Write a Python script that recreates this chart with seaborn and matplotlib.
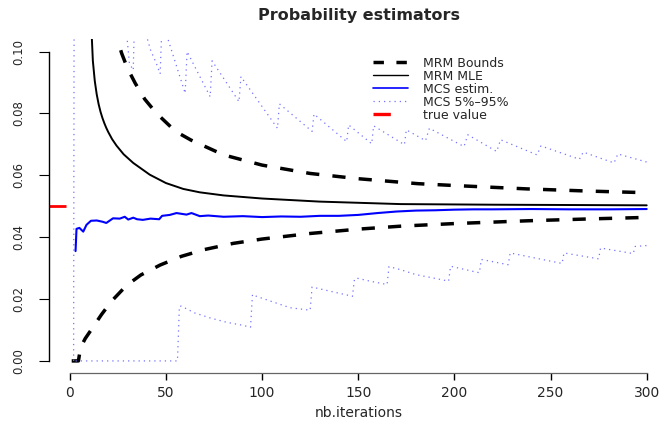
import matplotlib
matplotlib.use("Agg")
import matplotlib.pyplot as plt
from matplotlib.lines import Line2D
import numpy as np
import pandas as pd
import seaborn as sns

# ---- data ---------------------------------------------------------------
true_value = 0.05

# MRM upper / lower bounds
bound_up_x = [5, 10, 15, 20, 25, 27, 30, 34, 39, 45, 55, 63, 80, 100, 125,
              150, 181, 200, 238, 270, 293, 300]
bound_up_y = [0.316, 0.183, 0.139, 0.1165, 0.1035, 0.0994, 0.0946, 0.0898,
              0.0846, 0.0801, 0.0742, 0.0714, 0.0666, 0.0633, 0.0606, 0.0589,
              0.0573, 0.0567, 0.0556, 0.0549, 0.0545, 0.0544]
bound_lo_x = [1, 4.5, 5.6, 8, 11.3, 16.5, 21.7, 29.5, 37, 47, 58, 70, 85, 100,
              125, 150, 173, 200, 238, 270, 300]
bound_lo_y = [0.0, 0.0, 0.0043, 0.0072, 0.0102, 0.0150, 0.0193, 0.0244,
              0.0278, 0.0310, 0.0338, 0.0360, 0.0380, 0.0394, 0.0412, 0.0426,
              0.0436, 0.0444, 0.0453, 0.0459, 0.0464]

# MRM maximum likelihood estimate
mle_x = [8, 10, 11.5, 12, 13, 14, 15, 16, 17, 18, 19, 20, 22, 24.3, 28, 33,
         41.6, 50, 59, 67.6, 80, 100, 130, 172, 220, 260, 300]
mle_y = [0.20, 0.13, 0.104, 0.097, 0.0905, 0.0862, 0.0830, 0.0805, 0.0785,
         0.0768, 0.0753, 0.0740, 0.0717, 0.0696, 0.0668, 0.0640, 0.0602,
         0.0575, 0.0556, 0.0545, 0.0535, 0.0525, 0.0515, 0.0507, 0.0505,
         0.0504, 0.0503]

# Monte Carlo estimate
mcs_x = [3, 3.5, 5, 7, 8.7, 11, 14, 17, 19, 22.5, 26, 28.6, 30.4, 33, 35, 38,
         42, 46.5, 48, 52, 55.5, 60.7, 63.3, 67.6, 72, 80, 90, 100, 110, 120,
         130, 140, 150, 160, 170, 180, 190, 200, 210, 220, 240, 260, 280, 300]
mcs_y = [0.0355, 0.0427, 0.0430, 0.0418, 0.0440, 0.0453, 0.0454, 0.0450,
         0.0446, 0.0461, 0.0460, 0.0466, 0.0457, 0.0463, 0.0458, 0.0456,
         0.0460, 0.0458, 0.0469, 0.0472, 0.0478, 0.0473, 0.0478, 0.0468,
         0.0470, 0.0466, 0.0468, 0.0465, 0.0467, 0.0466, 0.0469, 0.0469,
         0.0472, 0.0478, 0.0483, 0.0486, 0.0487, 0.0489, 0.0490, 0.0490,
         0.0491, 0.0490, 0.0490, 0.0491]

# Monte Carlo 95% quantile
q95_x = [2, 3, 8, 9, 15, 16, 22, 23, 31, 33, 34, 42, 45, 47, 48, 60, 61, 73,
         74, 88, 89, 108, 109, 126, 127, 144, 145, 157, 158, 174, 175, 185,
         187, 205, 207, 222, 224, 243, 245, 265, 267, 283, 285, 300]
q95_y = [0.0, 0.45, 0.25, 0.33, 0.17, 0.20, 0.125, 0.15, 0.0962, 0.0940,
         0.118, 0.1005, 0.0962, 0.0928, 0.110, 0.0865, 0.1000, 0.0854, 0.0970,
         0.0838, 0.0919, 0.0752, 0.0831, 0.0742, 0.0798, 0.0709, 0.0763,
         0.0702, 0.0760, 0.0699, 0.0747, 0.0712, 0.0752, 0.0693, 0.0731,
         0.0677, 0.0715, 0.0666, 0.0695, 0.0652, 0.0675, 0.0640, 0.0669,
         0.0643]

# Monte Carlo 5% quantile
q05_x = [3, 56, 57, 58, 65, 73, 81.5, 90, 94, 95, 97, 114.5, 125, 126, 130,
         147, 148, 149, 156, 165, 166, 172, 180, 189, 197, 198, 213, 214, 228,
         229, 256, 257, 275, 276, 293, 294, 300]
q05_y = [0.0, 0.0, 0.0177, 0.0177, 0.0155, 0.0139, 0.0125, 0.0115, 0.0109,
         0.0215, 0.0209, 0.0172, 0.0164, 0.0239, 0.0233, 0.0209, 0.0263,
         0.0268, 0.0258, 0.0247, 0.0305, 0.0295, 0.0279, 0.0268, 0.0258,
         0.0306, 0.0285, 0.0328, 0.0311, 0.0349, 0.0315, 0.0349, 0.0330,
         0.0365, 0.0347, 0.0370, 0.0373]

x_ticks = [0, 50, 100, 150, 200, 250, 300]
y_ticks = [0.00, 0.02, 0.04, 0.06, 0.08, 0.10]
y_tick_labels = ["0.00", "0.02", "0.04", "0.06", "0.08", "0.10"]

# ---- style --------------------------------------------------------------
sns.set_style("white")
plt.rcParams["font.family"] = ["DejaVu Sans"]

W, H = 664, 426
fig = plt.figure(figsize=(W / 100, H / 100), dpi=100)
left, right, bottom, top = 48.7, 669.7, 373.3, 39.2
ax = fig.add_axes([left / W, 1 - bottom / H, (right - left) / W, (bottom - top) / H])
ax.set_xlim(-10.96, 311.96)
ax.set_ylim(-0.004, 0.104)

dot_col = "#7373ff"
dash_pat = (3.8, 3.8)
dot_pat = (1.0, 3.2)


def draw(xs, ys, **kw):
    df = pd.DataFrame({"x": xs, "y": ys})
    sns.lineplot(data=df, x="x", y="y", ax=ax, estimator=None, sort=False, **kw)
    return ax.lines[-1]


l = draw(bound_up_x, bound_up_y, color="black", linewidth=2.5)
l.set_dashes(dash_pat)
l = draw(bound_lo_x, bound_lo_y, color="black", linewidth=2.5)
l.set_dashes(dash_pat)
draw(mle_x, mle_y, color="black", linewidth=1.4)
l = draw(q95_x, q95_y, color=dot_col, linewidth=0.9)
l.set_dashes(dot_pat)
l = draw(q05_x, q05_y, color=dot_col, linewidth=0.9)
l.set_dashes(dot_pat)
draw(mcs_x, mcs_y, color="blue", linewidth=1.5)

ax.hlines(true_value, -12, -2, color="red", linewidth=2.0, clip_on=True)

# ---- axes ---------------------------------------------------------------
for s in ("top", "right"):
    ax.spines[s].set_visible(False)
ax.spines["left"].set_bounds(0, 0.10)
ax.spines["bottom"].set_bounds(0, 300)
ax.spines["left"].set_color("black")
ax.spines["left"].set_linewidth(1.0)
ax.spines["bottom"].set_color("#666666")
ax.spines["bottom"].set_linewidth(0.9)

ax.set_xticks(x_ticks)
ax.set_xticklabels([str(v) for v in x_ticks])
ax.set_yticks(y_ticks)
ax.set_yticklabels(y_tick_labels)
ax.tick_params(axis="x", direction="out", length=4.7, width=1.0, color="black",
               pad=4.5, labelsize=10, bottom=True)
ax.tick_params(axis="y", direction="out", length=7.5, width=0.8, color="black",
               pad=9.5, labelsize=8.5, labelrotation=90, left=True)
for t in ax.get_yticklabels():
    t.set_va("center")

ax.set_xlabel("nb.iterations", fontsize=10, labelpad=4)
ax.set_ylabel("")
ax.set_title("Probability estimators", fontsize=11.5, fontweight="bold", pad=14)

# ---- legend -------------------------------------------------------------
handles = [
    Line2D([], [], color="black", linewidth=2.5, dashes=(3.0, 3.6)),
    Line2D([], [], color="black", linewidth=1.0),
    Line2D([], [], color="blue", linewidth=1.2),
    Line2D([], [], color=dot_col, linewidth=0.9, dashes=dot_pat),
    Line2D([], [], color="red", linewidth=2.4, dashes=(5.2, 10)),
]
labels = ["MRM Bounds", "MRM MLE", "MCS estim.", "MCS 5%\u201395%", "true value"]
fig.legend(handles, labels, loc="upper left",
           bbox_to_anchor=(373 / W, 1 - 56.7 / H), bbox_transform=fig.transFigure,
           frameon=False, fontsize=9, borderpad=0, borderaxespad=0,
           handlelength=2.8, handletextpad=1.2, labelspacing=0.0)

fig.savefig("out.png", dpi=100)
